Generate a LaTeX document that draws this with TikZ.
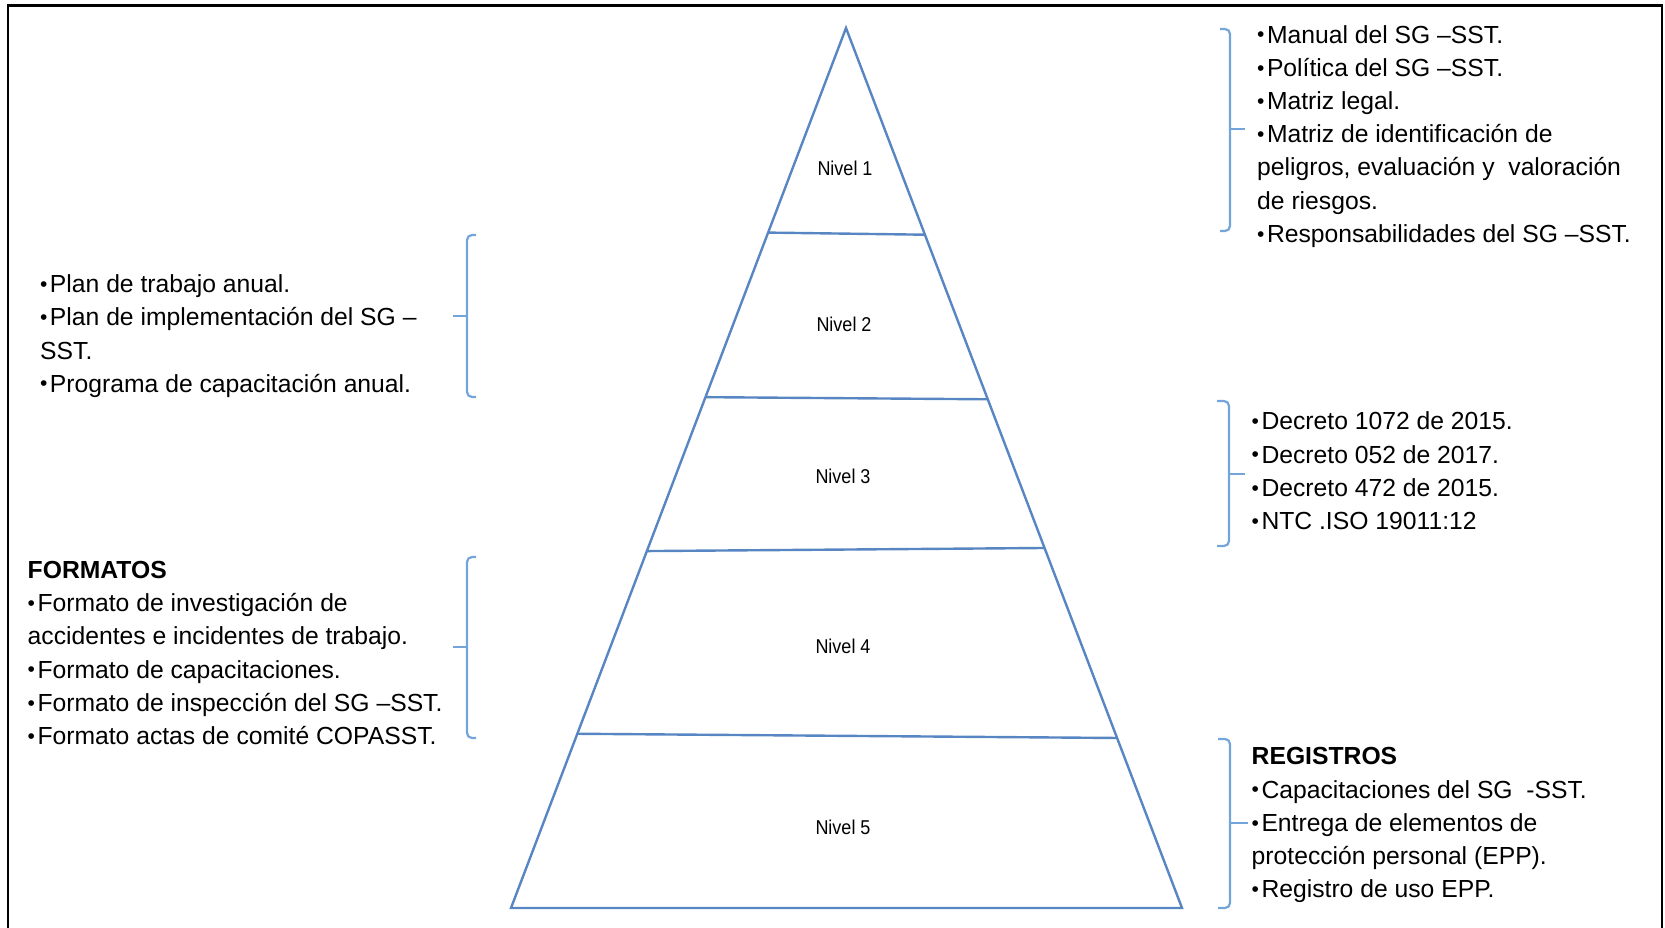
\documentclass[tikz,border=0pt]{standalone}
\usepackage{fontspec}
\usepackage{graphicx}
\setmainfont{Liberation Sans}
\usetikzlibrary{calc}
\definecolor{tricol}{RGB}{88,134,194}
\definecolor{brkcol}{RGB}{115,165,218}
\newcommand{\bul}{\makebox[9.8pt][l]{\raisebox{0.05em}{\scalebox{0.85}{•}}}}
\begin{document}
\begin{tikzpicture}[x=1pt,y=-1pt,
  txt/.style={anchor=base west, inner sep=0pt, font=\fontsize{24.7}{33.2}\selectfont},
  lvl/.style={inner sep=0pt, font=\fontsize{20}{22}\selectfont},
  tri/.style={draw=tricol, line width=2.4pt},
  brace/.style={draw=brkcol, line width=2.2pt, rounded corners=5pt}]
\useasboundingbox (0,0) rectangle (1665,928);
% frame
\draw[line width=2.5pt] (8,930) -- (8,5.5) -- (1662,5.5) -- (1662,930);
% pyramid
\coordinate (apex) at (846,28);
\coordinate (bl) at (511,908);
\coordinate (br) at (1182,908);
\draw[tri, line join=miter] (apex) -- (bl) -- (br) -- cycle;
\coordinate (l1) at ($(apex)!0.2325!(bl)$); \coordinate (r1) at ($(apex)!0.2349!(br)$);
\coordinate (l2) at ($(apex)!0.4195!(bl)$); \coordinate (r2) at ($(apex)!0.4219!(br)$);
\coordinate (l3) at ($(apex)!0.5944!(bl)$); \coordinate (r3) at ($(apex)!0.5909!(br)$);
\coordinate (l4) at ($(apex)!0.8020!(bl)$); \coordinate (r4) at ($(apex)!0.8068!(br)$);
\draw[tri] (l1) -- (r1);
\draw[tri] (l2) -- (r2);
\draw[tri] (l3) -- (r3);
\draw[tri] (l4) -- (r4);
\node[lvl] (n1) at (845,168) {\scalebox{0.9}[1]{Nivel 1}};
\node[lvl] (n2) at (844,324) {\scalebox{0.9}[1]{Nivel 2}};
\node[lvl] (n3) at (843,476) {\scalebox{0.9}[1]{Nivel 3}};
\node[lvl] (n4) at (843,646) {\scalebox{0.9}[1]{Nivel 4}};
\node[lvl] (n5) at (843,827) {\scalebox{0.9}[1]{Nivel 5}};
% brackets
\draw[brace] (1220,29) -- (1230,29) -- (1230,231) -- (1220,231);
\draw[brkcol, line width=2.2pt] (1230,129) -- (1245,129);
\draw[brace] (1217,401) -- (1229,401) -- (1229,546) -- (1217,546);
\draw[brkcol, line width=2.2pt] (1229,474) -- (1245,474);
\draw[brace] (1218,739) -- (1230,739) -- (1230,908) -- (1218,908);
\draw[brkcol, line width=2.2pt] (1230,823) -- (1248,823);
\draw[brace] (476,235) -- (467,235) -- (467,397) -- (476,397);
\draw[brkcol, line width=2.2pt] (467,316) -- (453,316);
\draw[brace] (476,557) -- (467,557) -- (467,738) -- (476,738);
\draw[brkcol, line width=2.2pt] (467,647) -- (453,647);
% texts
\node[txt] (t1) at (1257,43.2) {\vtop{%
  \hbox{\bul Manual del SG –SST.}
  \hbox{\bul Política del SG –SST.}
  \hbox{\bul Matriz legal.}
  \hbox{\bul Matriz de identificación de}
  \hbox{peligros, evaluación y\ \ valoración}
  \hbox{de riesgos.}
  \hbox{\bul Responsabilidades del SG –SST.}}};
\node[txt] (t2) at (40,292.6) {\vtop{%
  \hbox{\bul Plan de trabajo anual.}
  \hbox{\bul Plan de implementación del SG –}
  \hbox{SST.}
  \hbox{\bul Programa de capacitación anual.}}};
\node[txt] (t3) at (1251.5,429.9) {\vtop{%
  \hbox{\bul Decreto 1072 de 2015.}
  \hbox{\bul Decreto 052 de 2017.}
  \hbox{\bul Decreto 472 de 2015.}
  \hbox{\bul NTC .ISO 19011:12}}};
\node[txt] (t4) at (27.5,578.5) {\vtop{%
  \hbox{\textbf{FORMATOS}}
  \hbox{\bul Formato de investigación de}
  \hbox{accidentes e incidentes de trabajo.}
  \hbox{\bul Formato de capacitaciones.}
  \hbox{\bul Formato de inspección del SG –SST.}
  \hbox{\bul Formato actas de comité COPASST.}}};
\node[txt] (t5) at (1251.5,764.9) {\vtop{%
  \hbox{\textbf{REGISTROS}}
  \hbox{\bul Capacitaciones del SG\ \ -SST.}
  \hbox{\bul Entrega de elementos de}
  \hbox{protección personal (EPP).}
  \hbox{\bul Registro de uso EPP.}}};
\end{tikzpicture}
\end{document}
